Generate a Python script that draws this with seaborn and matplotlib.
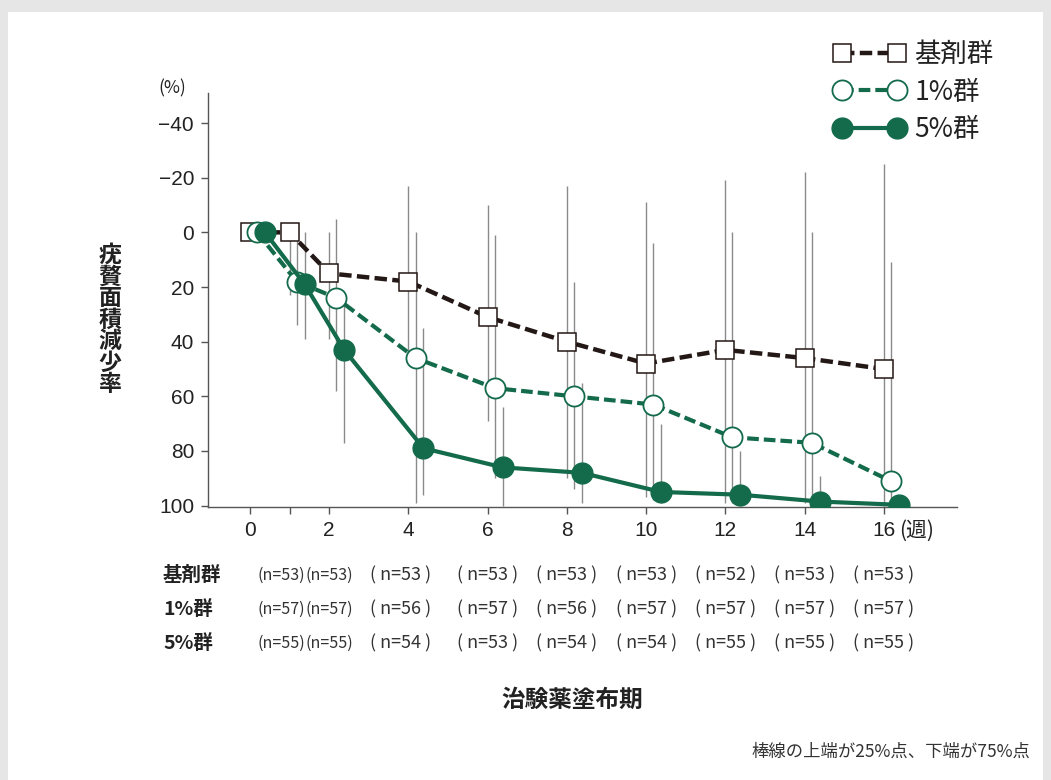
import numpy as np
import pandas as pd
import matplotlib
matplotlib.use("Agg")
import matplotlib.pyplot as plt
import matplotlib.transforms as mtransforms
from matplotlib.patches import Rectangle
import seaborn as sns

# --- data ---
weeks = [0, 1, 2, 4, 6, 8, 10, 12, 14, 16]
groups = ["基剤群", "1%群", "5%群"]

base_median = [0, 0, 15, 18, 31, 40, 48, 43, 46, 50]
base_q25 = [0, 0, 0, -17, -10, -17, -11, -19, -22, -25]
base_q75 = [0, 23, 39, 44, 69, 90, 97, 99, 99, 100]

low_median = [0, 18, 24, 46, 57, 60, 63, 75, 77, 91]
low_q25 = [0, 0, -5, 0, 1, 18, 4, 0, 0, 11]
low_q75 = [0, 34, 58, 99, 90, 94, 98, 99, 100, 100]

high_median = [0, 19, 43, 79, 86, 88, 95, 96, 98.5, 99.7]
high_q25 = [0, 0, 25, 35, 64, 55, 70, 80, 89, 98]
high_q75 = [0, 39, 77, 96, 100, 99, 99, 100, 100, 100]

n_base = [53, 53, 53, 53, 53, 53, 52, 53, 53]
n_low = [57, 57, 56, 57, 56, 57, 57, 57, 57]
n_high = [55, 55, 54, 53, 54, 54, 55, 55, 55]

yticks = [-40, -20, 0, 20, 40, 60, 80, 100]
ytick_labels = ["\u221240", "\u221220", "0", "20", "40", "60", "80", "100"]
xticks = [0, 1, 2, 4, 6, 8, 10, 12, 14, 16]
xtick_labels = ["0", "", "2", "4", "6", "8", "10", "12", "14", "16"]

# --- styling ---
GREEN = "#136b4b"
DARK = "#231815"
GRAY_BAR = "#8a8a8a"
offsets = {"基剤群": 0.0, "1%群": 0.18, "5%群": 0.38}
n_label_x = [0.8, 2.0, 3.8, 6, 8, 10, 12, 14, 16]

sns.set_theme(style="ticks")
plt.rcParams["font.family"] = ["Noto Sans CJK JP", "DejaVu Sans"]


def build_frame():
    rows = []
    series = {
        "基剤群": (base_median, base_q25, base_q75),
        "1%群": (low_median, low_q25, low_q75),
        "5%群": (high_median, high_q25, high_q75),
    }
    for g in groups:
        med, q25, q75 = series[g]
        for w, m, lo, hi in zip(weeks, med, q25, q75):
            rows.append({"group": g, "week": w, "pos": w + offsets[g],
                         "median": m, "q25": lo, "q75": hi})
    return pd.DataFrame(rows)


def main():
    df = build_frame()

    fig = plt.figure(figsize=(10.51, 7.8), dpi=100)
    fig.patch.set_facecolor("#e6e6e6")
    fig.patches.append(Rectangle((8 / 1051, 0), 1035 / 1051, 1 - 12 / 780,
                                 transform=fig.transFigure, facecolor="white",
                                 edgecolor="none", zorder=-5))
    ax = fig.add_axes([208 / 1051, 1 - 507 / 780, 749 / 1051, 414 / 780])
    ax.set_facecolor("none")

    styles = {
        "基剤群": dict(color=DARK, marker="s", markersize=13.5, markerfacecolor="white",
                     markeredgecolor=DARK, markeredgewidth=1.1,
                     linestyle=(0, (2.8, 1.2)), linewidth=3.2),
        "1%群": dict(color=GREEN, marker="o", markersize=14.5, markerfacecolor="white",
                    markeredgecolor=GREEN, markeredgewidth=1.3,
                    linestyle=(0, (2.8, 1.2)), linewidth=3.0),
        "5%群": dict(color=GREEN, marker="o", markersize=15, markerfacecolor=GREEN,
                    markeredgecolor=GREEN, markeredgewidth=1.0,
                    linestyle="-", linewidth=3.0),
    }

    # interquartile bars (25% / 75% points)
    for g in groups:
        sub = df[df["group"] == g]
        ax.vlines(sub["pos"], sub["q25"], sub["q75"], color=GRAY_BAR,
                  linewidth=1.0, zorder=1)

    for i, g in enumerate(groups):
        sub = df[df["group"] == g]
        sns.lineplot(data=sub, x="pos", y="median", ax=ax, sort=False,
                     errorbar=None, label=g, zorder=3 + i, **styles[g])

    ax.set_xlim(-1.06, 17.85)
    ax.set_ylim(100.5, -51)
    ax.set_yticks(yticks)
    ax.set_yticklabels(ytick_labels)
    ax.set_xticks(xticks)
    ax.set_xticklabels(xtick_labels)
    ax.set_xlabel("")
    ax.set_ylabel("")
    ax.tick_params(axis="both", direction="out", length=5, width=1,
                   color="#555555", labelsize=15, labelcolor="#222222", pad=5)
    for lab in ax.get_xticklabels() + ax.get_yticklabels():
        lab.set_fontfamily(["Liberation Sans", "DejaVu Sans"])
    for side in ["top", "right"]:
        ax.spines[side].set_visible(False)
    for side in ["left", "bottom"]:
        ax.spines[side].set_color("#555555")
        ax.spines[side].set_linewidth(1.0)

    ax.annotate("(週)", xy=(16, 0), xycoords=("data", "axes fraction"),
                xytext=(11, -9.5), textcoords="offset points", ha="left", va="top",
                fontsize=15, color="#222222")

    leg = ax.legend(loc="upper left", bbox_to_anchor=(834 / 1051, 1 - 41 / 780),
                    bbox_transform=fig.transFigure, frameon=False, numpoints=2,
                    fontsize=19, handlelength=2.7, handletextpad=0.35,
                    labelspacing=0.4, borderpad=0, borderaxespad=0)
    for t in leg.get_texts():
        t.set_color("#222222")

    # axis texts
    fig.text(172 / 1051, 1 - 88 / 780, "(%)", ha="center", va="center",
             fontsize=12.5, color="#222222")
    fig.text(110 / 1051, 1 - 320 / 780, "\n".join("疣贅面積減少率"), ha="center",
             va="center", fontsize=16.5, fontweight="bold", linespacing=0.92,
             color="#222222")
    fig.text(572 / 1051, 1 - 700 / 780, "治験薬塗布期", ha="center", va="center",
             fontsize=17, fontweight="bold", color="#222222")
    fig.text(1030 / 1051, 1 - 752 / 780, "棒線の上端が25%点、下端が75%点",
             ha="right", va="center", fontsize=12.5, color="#333333")

    # n table under the axis
    trans = mtransforms.blended_transform_factory(ax.transData, fig.transFigure)
    row_y = [1 - 575 / 780, 1 - 609 / 780, 1 - 643 / 780]
    for label, counts, y in zip(groups, [n_base, n_low, n_high], row_y):
        fig.text(163 / 1051, y, label, ha="left", va="center", fontsize=14,
                 fontweight="bold", color="#222222")
        for j, (x, n) in enumerate(zip(n_label_x, counts)):
            if j < 2:
                ax.text(x, y, f"(n={n})", transform=trans, ha="center",
                        va="center", fontsize=11.5, color="#333333", clip_on=False)
            else:
                ax.text(x, y, f"( n={n} )", transform=trans, ha="center",
                        va="center", fontsize=13, color="#333333", clip_on=False)

    fig.savefig("out.png", dpi=100, facecolor=fig.get_facecolor())
    plt.close(fig)


if __name__ == "__main__":
    main()
